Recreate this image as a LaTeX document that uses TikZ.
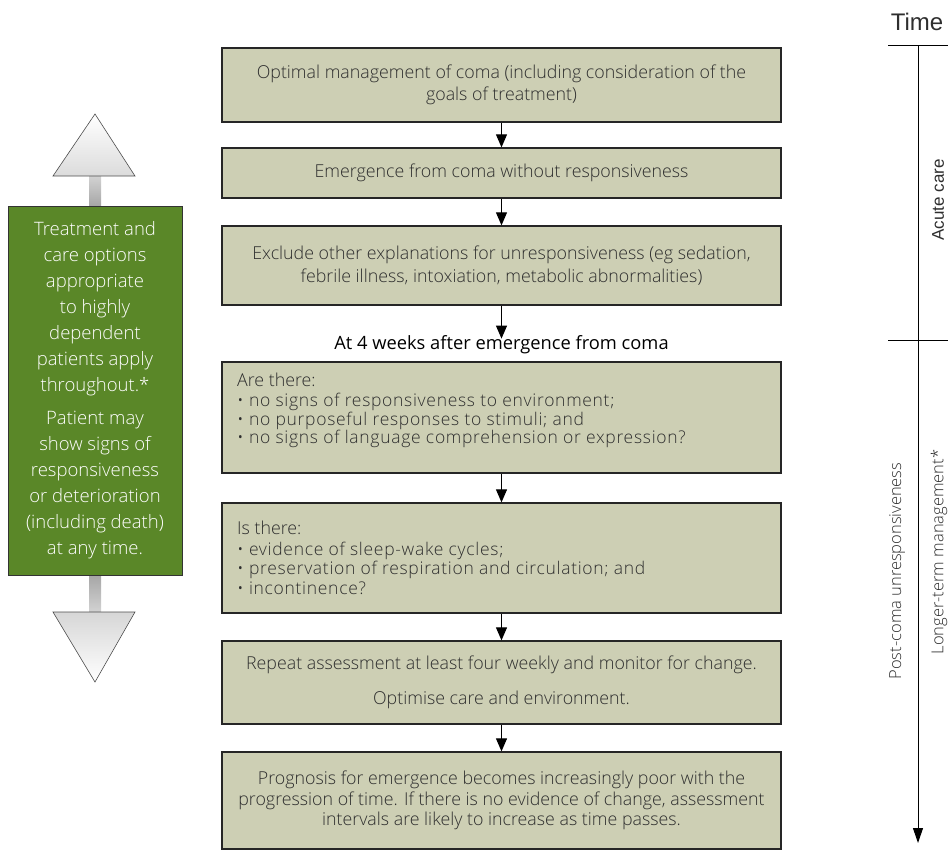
\documentclass[tikz,border=0pt]{standalone}
\usepackage{fontspec}
\IfFontExistsTF{Open Sans Light}{\setmainfont{Open Sans Light}}{\setmainfont{Open Sans}}
\newfontfamily\regf{Open Sans}
\newfontfamily\arialf{Liberation Sans}
\usetikzlibrary{arrows.meta}
\definecolor{boxfill}{HTML}{CDCFB4}
\definecolor{grn}{HTML}{5A8728}
\definecolor{txt}{HTML}{2E2E2E}
\newcommand{\bltxt}{\fontsize{17.5}{17}\selectfont\addfontfeature{LetterSpace=4}}
\begin{document}
\begin{tikzpicture}[x=1pt,y=-1pt,
  flow/.style={draw=black!85, line width=1.3pt, fill=boxfill, minimum width=559pt, text=txt,
    font=\fontsize{17.8}{22.5}\selectfont, align=center, inner sep=0pt},
  plain/.style={text=txt, inner sep=0pt},
  conn/.style={line width=1pt, -{Triangle[width=11pt,length=13pt]}},
  sidelbl/.style={text=txt, rotate=90, inner sep=0pt}]
\useasboundingbox (0,0) rectangle (951,857);

% flow boxes
\node[flow, minimum height=74pt] (b1) at (501.5,85)
  {Optimal management of coma (including consideration of the\\goals of treatment)};
\node[flow, minimum height=50pt] (b2) at (501.5,173)
  {Emergence from coma without responsiveness};
\node[flow, minimum height=79pt] (b3) at (501.5,265.5)
  {Exclude other explanations for unresponsiveness (eg sedation,\\febrile illness, intoxiation, metabolic abnormalities)};
\node[plain, font=\regf\fontsize{18.3}{20}\selectfont, text=black] (lbl) at (501.5,345)
  {At 4 weeks after emergence from coma};
\node[flow, minimum height=111pt] (b4) at (501.5,417.5) {};
\node[plain, anchor=north west, align=left, font=\bltxt] (t4) at (237,373)
  {{\fontsize{17.8}{17}\selectfont\addfontfeature{LetterSpace=0} Are there:}\\[3pt]
   \textbullet\ no signs of responsiveness to environment;\\
   \textbullet\ no purposeful responses to stimuli; and\\
   \textbullet\ no signs of language comprehension or expression?};
\node[flow, minimum height=110pt] (b5) at (501.5,558) {};
\node[plain, anchor=north west, align=left, font=\bltxt\fontsize{17.5}{19.5}\selectfont] (t5) at (237,521)
  {{\fontsize{17.8}{17}\selectfont\addfontfeature{LetterSpace=0} Is there:}\\[1pt]
   \textbullet\ evidence of sleep-wake cycles;\\
   \textbullet\ preservation of respiration and circulation; and\\
   \textbullet\ incontinence?};
\node[flow, minimum height=83pt] (b6) at (501.5,682.5)
  {Repeat assessment at least four weekly and monitor for change.\\[12pt]Optimise care and environment.};
\node[flow, minimum height=97pt, font=\fontsize{17.8}{20.5}\selectfont] (b7) at (501.5,800.5)
  {Prognosis for emergence becomes increasingly poor with the\\progression of time. If there is no evidence of change, assessment\\intervals are likely to increase as time passes.};

\draw[conn] (b1.south) -- (b2.north);
\draw[conn] (b2.south) -- (b3.north);
\draw[conn] (b3.south) -- ([yshift=-3pt]lbl.north);
\draw[conn] (b4.south) -- (b5.north);
\draw[conn] (b5.south) -- (b6.north);
\draw[conn] (b6.south) -- (b7.north);

% left side arrows and green box
\shade[top color=gray!35, bottom color=gray!70] (89,176) rectangle (101,206);
\shade[top color=white, bottom color=gray!28, draw=black!70, line width=0.6pt]
  (53,176) -- (95,114) -- (135,176) -- cycle;
\shade[top color=gray!70, bottom color=gray!35] (89,575) rectangle (101,612);
\shade[top color=gray!32, bottom color=white, draw=black!70, line width=0.6pt]
  (53,612) -- (135,612) -- (95,682) -- cycle;
\node[draw=black!80, line width=0.8pt, fill=grn, minimum width=174pt, minimum height=369pt,
  inner sep=0pt, text=white, align=center, font=\fontsize{18.5}{26}\selectfont] (g) at (95,390.5)
  {Treatment and\\care options\\appropriate\\to highly\\dependent\\patients apply\\throughout.*\\[7pt]
   Patient may\\show signs of\\responsiveness\\or deterioration\\(including death)\\at any time.};

% timeline
\coordinate (t0) at (918,45);
\coordinate (t1) at (918,843);
\coordinate (k0a) at (888,45);
\coordinate (k0b) at (948,45);
\coordinate (k1a) at (888,340);
\coordinate (k1b) at (948,340);
\draw[line width=1pt, -{Triangle[width=10pt,length=15pt]}] (t0) -- (t1);
\draw[line width=1pt] (k0a) -- (k0b);
\draw[line width=1pt] (k1a) -- (k1b);
\node[plain, font=\arialf\fontsize{24}{24}\selectfont] (time) at (917,22) {Time};
\node[sidelbl, font=\arialf\fontsize{17}{17}\selectfont] (ac) at (938,200) {Acute care};
\node[sidelbl, font=\fontsize{16.5}{16.5}\selectfont] (pc) at (897,571) {Post-coma unresponsiveness};
\node[sidelbl, font=\fontsize{16.5}{16.5}\selectfont] (lt) at (939,552) {Longer-term management*};
\end{tikzpicture}
\end{document}
